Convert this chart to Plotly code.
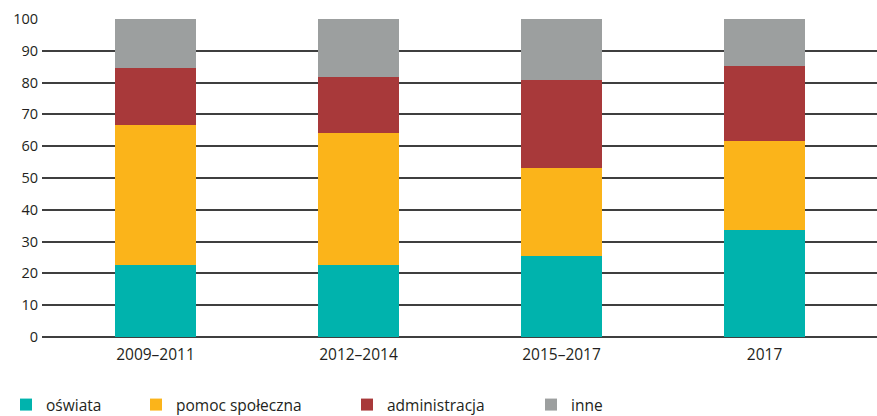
import plotly.graph_objects as go

categories = ["2009–2011", "2012–2014", "2015–2017", "2017"]
oswiata = [22.5, 22.5, 25.5, 33.7]
pomoc = [44.2, 41.5, 27.6, 28.0]
administracja = [18.0, 17.9, 27.8, 23.4]
inne = [15.3, 18.1, 19.1, 14.9]
y_ticks = [0, 10, 20, 30, 40, 50, 60, 70, 80, 90, 100]

W, H = 877, 416
series = [
    ("oświata", oswiata, "#00B3AD", "legend", 6),
    ("pomoc społeczna", pomoc, "#FBB41A", "legend2", 136),
    ("administracja", administracja, "#A8393A", "legend3", 347),
    ("inne", inne, "#9C9F9F", "legend4", 531),
]

FONT = "Open Sans"
fig = go.Figure()
legends = {}
leg_y = (H - 405) / H
for name, vals, col, lg, lx in series:
    fig.add_trace(go.Bar(
        x=categories, y=vals, name=name, legend=lg,
        marker=dict(color=col, line=dict(width=0)),
        width=0.4,
    ))
    legends[lg] = dict(orientation="h", yanchor="middle", xanchor="left",
                       xref="container", yref="container",
                       x=lx / W, y=leg_y, visible=True,
                       font=dict(family=FONT, size=15.5, color="#231F20"),
                       bgcolor="rgba(0,0,0,0)", borderwidth=0)

fig.update_layout(
    width=W, height=H,
    showlegend=True,
    margin=dict(l=42, r=0, t=19, b=79, autoexpand=False),
    barmode="stack",
    plot_bgcolor="white", paper_bgcolor="white",
    font=dict(family=FONT, color="#231F20"),
    xaxis=dict(range=[-0.559, 3.554], showgrid=False, zeroline=False,
               showline=False, ticks="", automargin=False,
               ticklabelstandoff=6,
               tickfont=dict(family=FONT, size=15.5, color="#231F20")),
    yaxis=dict(range=[0, 100], tickvals=y_ticks, showgrid=True,
               gridcolor="#3F3F3F", gridwidth=1.5, zeroline=True,
               zerolinecolor="#3F3F3F", zerolinewidth=1.5,
               showline=False, ticks="", ticklabelstandoff=3, automargin=False,
               tickfont=dict(family=FONT, size=14.5, color="#231F20")),
    **legends,
)
fig.write_html("out.html", config={"displayModeBar": False},
               post_script="document.body.style.margin='0';document.body.style.overflow='hidden';")
